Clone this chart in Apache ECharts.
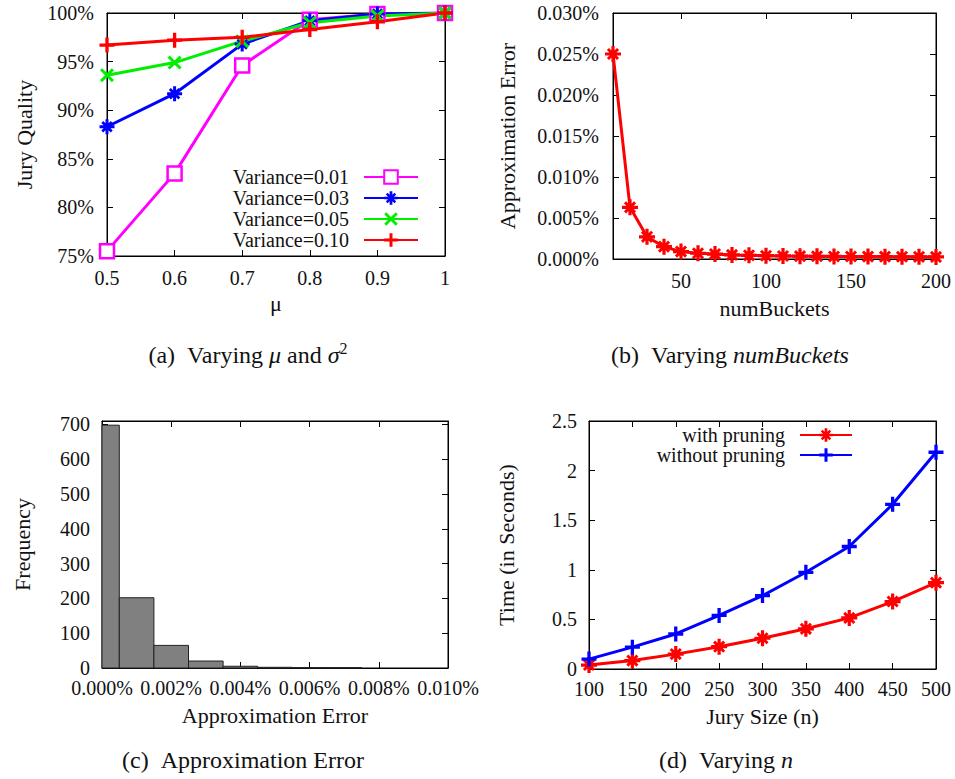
<!DOCTYPE html>
<html><head><meta charset="utf-8">
<script src="https://cdn.jsdelivr.net/npm/echarts@6/dist/echarts.min.js"></script>
<style>html,body{margin:0;padding:0;background:#fff}#c{width:955px;height:779px}</style>
</head><body><div id="c"></div>
<script>
// ---- data (a) ----
const muVals = [0.5, 0.6, 0.7, 0.8, 0.9, 1.0];
const var001 = [75.5, 83.5, 94.6, 99.3, 99.9, 100];
const var003 = [88.3, 91.7, 96.8, 99.2, 99.9, 100];
const var005 = [93.6, 94.9, 97.1, 99.0, 99.7, 100];
const var010 = [96.7, 97.2, 97.5, 98.3, 99.1, 100];
// ---- data (b) ----
const bucketCounts = [10,20,30,40,50,60,70,80,90,100,110,120,130,140,150,160,170,180,190,200];
const bucketErr = [0.0250,0.0063,0.0027,0.0015,0.0009,0.0007,0.0006,0.0005,0.00045,0.0004,0.00037,0.00035,0.00033,0.00031,0.0003,0.00029,0.00028,0.00027,0.00026,0.00025];
const bucketTicks = [50, 100, 150, 200];
// ---- data (c) ----
const histLo = [0, 0.0005, 0.0015, 0.0025, 0.0035, 0.0045, 0.0055, 0.0065];
const histHi = [0.0005, 0.0015, 0.0025, 0.0035, 0.0045, 0.0055, 0.0065, 0.0075];
const histFreq = [698, 202, 65, 20, 5, 2, 1, 1];
const freqTicks = [0, 100, 200, 300, 400, 500, 600, 700];
// ---- data (d) ----
const jurySizes = [100, 150, 200, 250, 300, 350, 400, 450, 500];
const timeWith = [0.04, 0.085, 0.15, 0.225, 0.31, 0.405, 0.515, 0.68, 0.87];
const timeWithout = [0.1, 0.22, 0.353, 0.54, 0.74, 0.975, 1.235, 1.66, 2.185];

const SERIF = "'Liberation Serif', 'Times New Roman', serif";
const TXT = '#111';

const SYM_PLUS = 'path://M3.9,0H6.1V3.9H10V6.1H6.1V10H3.9V6.1H0V3.9H3.9Z';
const SYM_X = 'path://M0,1.5L1.5,0L5,3.5L8.5,0L10,1.5L6.5,5L10,8.5L8.5,10L5,6.5L1.5,10L0,8.5L3.5,5Z';
const SYM_AST = 'path://M4,0H6V4H10V6H6V10H4V6H0V4H4Z M1.2,2.5L2.5,1.2L8.8,7.5L7.5,8.8Z M7.5,1.2L8.8,2.5L2.5,8.8L1.2,7.5Z';

function axisPair(dim, grid, c) {
  const pos = dim === 'x' ? ['bottom', 'top'] : ['left', 'right'];
  const mk = (main) => {
    const a = {
      type: 'value', gridIndex: grid, position: main ? pos[0] : pos[1],
      min: c.min, max: c.max, splitLine: {show: false},
      axisLine: {show: true, onZero: false, lineStyle: {color: '#000', width: 1}},
      axisTick: {show: true, inside: true, length: 6, lineStyle: {color: '#000', width: 1}},
      axisLabel: {show: main, margin: c.margin || 12, formatter: c.fmt, fontFamily: SERIF, fontSize: 20, color: TXT},
    };
    if (c.interval != null) a.interval = c.interval;
    if (c.ticks) { a.axisTick.customValues = c.ticks; a.axisLabel.customValues = c.ticks; }
    if (main && c.name) {
      a.name = c.name; a.nameLocation = 'middle'; a.nameGap = c.nameGap;
      a.nameTextStyle = {fontFamily: SERIF, fontSize: 22, color: TXT};
    }
    return a;
  };
  return [mk(true), mk(false)];
}

const pct3 = v => v.toFixed(3) + '%';
const trim = d => v => String(+v.toFixed(d));

const xAxis = [].concat(
  axisPair('x', 0, {min: 0.5, max: 1, interval: 0.1, fmt: trim(1), name: 'μ', nameGap: 36}),
  axisPair('x', 1, {min: 10, max: 200, ticks: bucketTicks, fmt: v => String(v), name: 'numBuckets', nameGap: 38}),
  axisPair('x', 2, {min: 0, max: 0.01, interval: 0.002, fmt: pct3, name: 'Approximation Error', nameGap: 36, margin: 10}),
  axisPair('x', 3, {min: 100, max: 500, interval: 50, fmt: v => String(v), name: 'Jury Size (n)', nameGap: 36, margin: 10})
);
const yAxis = [].concat(
  axisPair('y', 0, {min: 75, max: 100, interval: 5, fmt: v => v + '%', name: 'Jury Quality', nameGap: 72, margin: 13}),
  axisPair('y', 1, {min: 0, max: 0.03, interval: 0.005, fmt: pct3, name: 'Approximation Error', nameGap: 95, margin: 14}),
  axisPair('y', 2, {min: 0, max: 710, ticks: freqTicks, fmt: v => String(v), name: 'Frequency', nameGap: 69, margin: 12}),
  axisPair('y', 3, {min: 0, max: 2.5, interval: 0.5, fmt: trim(1), name: 'Time (in Seconds)', nameGap: 72, margin: 12})
);

function lineSeries(name, g, xs, ys, color, symbol, size, extra) {
  return Object.assign({
    name, type: 'line', xAxisIndex: 2 * g, yAxisIndex: 2 * g,
    data: xs.map((x, i) => [x, ys[i]]),
    symbol, symbolSize: size, showAllSymbol: true,
    lineStyle: {color, width: 3},
    itemStyle: {color},
    emphasis: {disabled: true},
    animation: false
  }, extra || {});
}

const series = [
  lineSeries('Variance=0.01', 0, muVals, var001, '#ff00ff', 'rect', 14,
    {itemStyle: {color: '#ffffff', borderColor: '#ff00ff', borderWidth: 2.5}}),
  lineSeries('Variance=0.03', 0, muVals, var003, '#0000ff', SYM_AST, 15),
  lineSeries('Variance=0.05', 0, muVals, var005, '#00ee00', SYM_X, 14),
  lineSeries('Variance=0.10', 0, muVals, var010, '#ff0000', SYM_PLUS, 15),
  lineSeries('err', 1, bucketCounts, bucketErr, '#ff0000', SYM_AST, 16),
  {
    type: 'custom', xAxisIndex: 4, yAxisIndex: 4, animation: false,
    data: histLo.map((lo, i) => [lo, histHi[i], histFreq[i]]),
    encode: {x: [0, 1], y: 2},
    renderItem(params, api) {
      const p0 = api.coord([api.value(0), 0]);
      const p1 = api.coord([api.value(1), api.value(2)]);
      return {type: 'rect', shape: {x: p0[0], y: p1[1], width: p1[0] - p0[0], height: p0[1] - p1[1]},
        style: {fill: '#808080', stroke: '#222', lineWidth: 1}};
    }
  },
  lineSeries('with pruning', 3, jurySizes, timeWith, '#ff0000', SYM_AST, 16),
  lineSeries('without pruning', 3, jurySizes, timeWithout, '#0000ff', SYM_PLUS, 15)
];

const legendText = {fontFamily: SERIF, fontSize: 20, color: TXT, padding: [0, 10, 0, 0]};
const legend = [
  {orient: 'vertical', right: 536, top: 167, align: 'right', padding: 0, itemWidth: 54, itemHeight: 17, itemGap: 1,
   selectedMode: false, data: ['Variance=0.01', 'Variance=0.03', 'Variance=0.05', 'Variance=0.10'], textStyle: legendText},
  {orient: 'vertical', right: 102, top: 425, align: 'right', padding: 0, itemWidth: 52, itemHeight: 17,
   selectedMode: false, data: ['with pruning'], textStyle: legendText},
  {orient: 'vertical', right: 102, top: 445, align: 'right', padding: 0, itemWidth: 52, itemHeight: 17,
   selectedMode: false, data: ['without pruning'], textStyle: legendText}
];

const capRich = {
  n: {fontFamily: SERIF, fontSize: 24, fill: TXT, lineHeight: 30},
  i: {fontFamily: SERIF, fontSize: 24, fontStyle: 'italic', fill: TXT, lineHeight: 30},
  s: {fontFamily: SERIF, fontSize: 16, fill: TXT, verticalAlign: 'top', lineHeight: 16}
};
function caption(x, y, text) {
  return {type: 'text', x, y, silent: true,
    style: {text, align: 'center', verticalAlign: 'middle', rich: capRich}};
}
const NB = '\u00a0';
const graphic = [
  caption(248, 355, '{n|(a)' + NB + NB + 'Varying }{i|μ}{n| and }{i|σ}{s|2}'),
  caption(730, 355, '{n|(b)' + NB + NB + 'Varying }{i|numBuckets}'),
  caption(243, 760, '{n|(c)' + NB + NB + 'Approximation Error}'),
  caption(726, 760, '{n|(d)' + NB + NB + 'Varying }{i|n}')
];

const grid = [
  {left: 107, top: 13, width: 338, height: 243},
  {left: 613, top: 13, width: 323, height: 246},
  {left: 102, top: 421, width: 346, height: 247},
  {left: 589, top: 421, width: 347, height: 248}
].map(g => Object.assign(g, {show: true, borderColor: '#000', borderWidth: 1, backgroundColor: 'transparent', containLabel: false}));

const chart = echarts.init(document.getElementById('c'), null, {renderer: 'svg'});
chart.setOption({animation: false, backgroundColor: '#fff', grid, xAxis, yAxis, series, legend, graphic});
</script></body></html>
